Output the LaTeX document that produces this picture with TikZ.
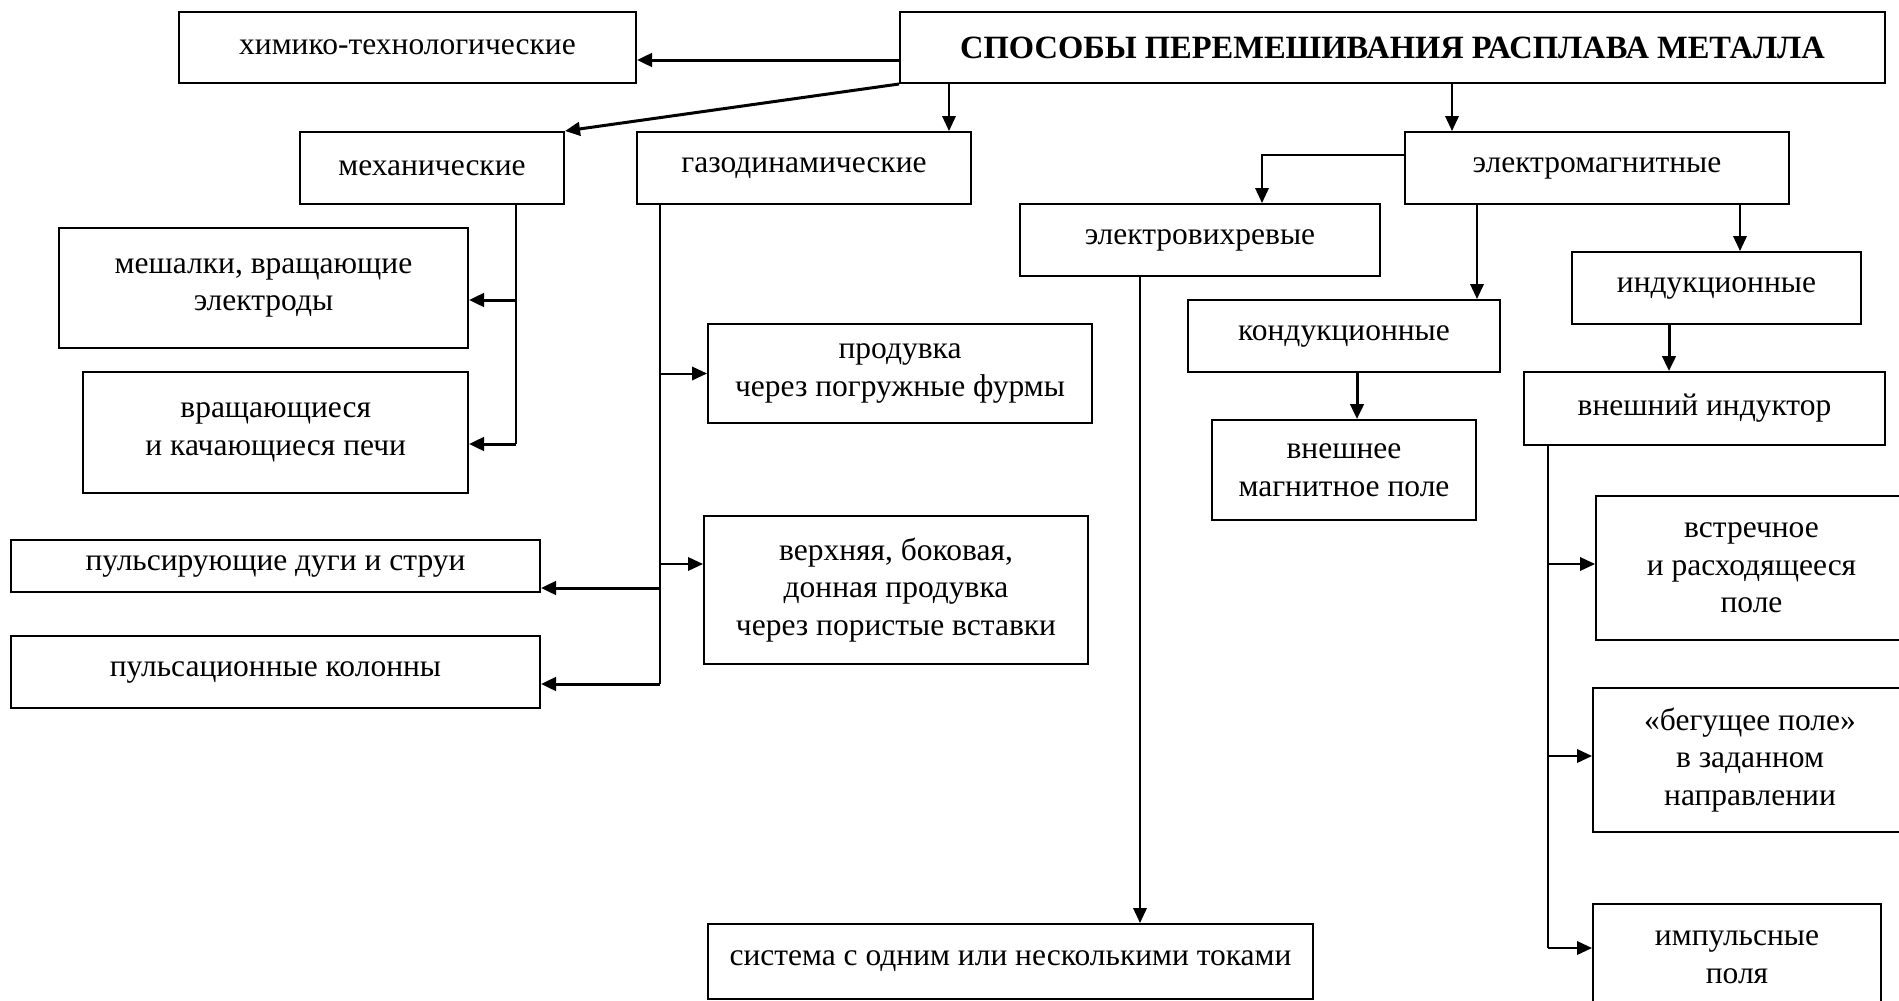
\documentclass[tikz,border=0pt]{standalone}
\usepackage{fontspec}
\setmainfont{Liberation Serif}
\usetikzlibrary{arrows.meta, positioning, calc}
\tikzset{
  methodbox/.style={
    draw, line width=0.8pt, align=center, inner sep=2pt,
    font=\fontsize{12.6}{15}\selectfont
  },
  titlebox/.style={
    methodbox, font=\bfseries\fontsize{13}{15}\selectfont
  },
  linkarrow/.style={-{Triangle[length=6pt,width=5.4pt]}, line width=0.8pt},
  linkthick/.style={-{Triangle[length=6pt,width=5.4pt]}, line width=1.2pt},
  linkline/.style={line width=0.8pt},
}

\begin{document}
\begin{tikzpicture}[x=0.4pt, y=-0.4pt]
  \useasboundingbox (0,0) rectangle (1899,1000);

  % ── Top level ──
  \node[titlebox, minimum width=394pt, minimum height=28.4pt]
    (title) at (1392.5,47.5) {СПОСОБЫ ПЕРЕМЕШИВАНИЯ РАСПЛАВА МЕТАЛЛА};
  \node[methodbox, minimum width=182.8pt, minimum height=28.4pt]
    (chem) at (407.5,47.5) {химико-технологические};

  % ── Main groups ──
  \node[methodbox, minimum width=105.6pt, minimum height=28.8pt]
    (mech) at (432,168) {механические};
  \node[methodbox, minimum width=133.6pt, minimum height=28.8pt]
    (gas) at (804,168) {газодинамические};
  \node[methodbox, minimum width=153.6pt, minimum height=28.8pt]
    (em) at (1597,168) {электромагнитные};

  % ── Mechanical ──
  \node[methodbox, minimum width=163.6pt, minimum height=48pt]
    (stir) at (263.5,288) {мешалки, вращающие\\электроды};
  \node[methodbox, minimum width=153.8pt, minimum height=48.4pt]
    (furn) at (275.75,432.5) {вращающиеся\\и качающиеся печи};
  \node[methodbox, minimum width=211.6pt, minimum height=20.8pt]
    (arcs) at (275.5,566) {пульсирующие дуги и струи};
  \node[methodbox, minimum width=211.6pt, minimum height=28.8pt]
    (cols) at (275.5,672) {пульсационные колонны};

  % ── Gas dynamic ──
  \node[methodbox, minimum width=153.6pt, minimum height=39.6pt]
    (blow1) at (900,373.5) {продувка\\через погружные фурмы};
  \node[methodbox, minimum width=153.6pt, minimum height=59.2pt]
    (blow2) at (896,590) {верхняя, боковая,\\донная продувка\\через пористые вставки};

  % ── Electromagnetic ──
  \node[methodbox, minimum width=144pt, minimum height=28.8pt]
    (eddy) at (1200,240) {электровихревые};
  \node[methodbox, minimum width=124.8pt, minimum height=28.8pt]
    (cond) at (1344,336) {кондукционные};
  \node[methodbox, minimum width=105.6pt, minimum height=40pt]
    (ext) at (1344,470) {внешнее\\магнитное поле};
  \node[methodbox, minimum width=115.6pt, minimum height=28.8pt]
    (ind) at (1716.5,288) {индукционные};
  \node[methodbox, minimum width=144.4pt, minimum height=29.2pt]
    (inductor) at (1704.5,408.5) {внешний индуктор};
  \node[methodbox, minimum width=124.4pt, minimum height=57.6pt]
    (counter) at (1751.5,568) {встречное\\и расходящееся\\поле};
  \node[methodbox, minimum width=125.6pt, minimum height=57.6pt]
    (run) at (1750,760) {«бегущее поле»\\в заданном\\направлении};
  \node[methodbox, minimum width=115.2pt, minimum height=42.4pt]
    (pulse) at (1737,957) {импульсные\\поля};
  \node[methodbox, minimum width=242pt, minimum height=30pt]
    (sys) at (1010.5,961.5) {система с одним или несколькими токами};

  % ── Bus corners ──
  \coordinate (mbus) at (516,444);
  \coordinate (gbus) at (660,684);
  \coordinate (ibus) at (1548,948);

  % ── Arrows from the title ──
  \draw[linkthick] (title.west |- 0,60) -- (chem.east |- 0,60);
  \draw[linkthick] (title.south west) -- (mech.north east);
  \draw[linkarrow] (title.south -| 949,0) -- (gas.north -| 949,0);
  \draw[linkarrow] (title.south -| 1452,0) -- (em.north -| 1452,0);

  % ── Mechanical branch ──
  \draw[linkline] (mech.south -| mbus) -- (mbus);
  \draw[linkthick] (mbus |- 0,300) -- (stir.east |- 0,300);
  \draw[linkthick] (mbus) -- (furn.east |- mbus);

  % ── Gas dynamic branch ──
  \draw[linkline] (gas.south -| gbus) -- (gbus);
  \draw[linkarrow] (gbus |- blow1.west) -- (blow1.west);
  \draw[linkarrow] (gbus |- 0,564) -- (blow2.west |- 0,564);
  \draw[linkthick] (gbus |- 0,588) -- (arcs.east |- 0,588);
  \draw[linkthick] (gbus) -- (cols.east |- gbus);

  % ── Electromagnetic branch ──
  \draw[linkarrow] (em.west |- 0,155) -| (eddy.north -| 1262,0);
  \draw[linkarrow] (em.south -| 1477,0) -- (cond.north -| 1477,0);
  \draw[linkarrow] (em.south -| 1740,0) -- (ind.north -| 1740,0);
  \draw[linkthick] (cond.south -| 1357,0) -- (ext.north -| 1357,0);
  \draw[linkthick] (ind.south -| 1669,0) -- (inductor.north -| 1669,0);
  \draw[linkarrow] (eddy.south -| 1140,0) -- (sys.north -| 1140,0);
  \draw[linkline] (inductor.south -| ibus) -- (ibus);
  \draw[linkarrow] (ibus |- 0,564) -- (counter.west |- 0,564);
  \draw[linkarrow] (ibus |- 0,756) -- (run.west |- 0,756);
  \draw[linkarrow] (ibus) -- (pulse.west |- ibus);
\end{tikzpicture}
\end{document}
